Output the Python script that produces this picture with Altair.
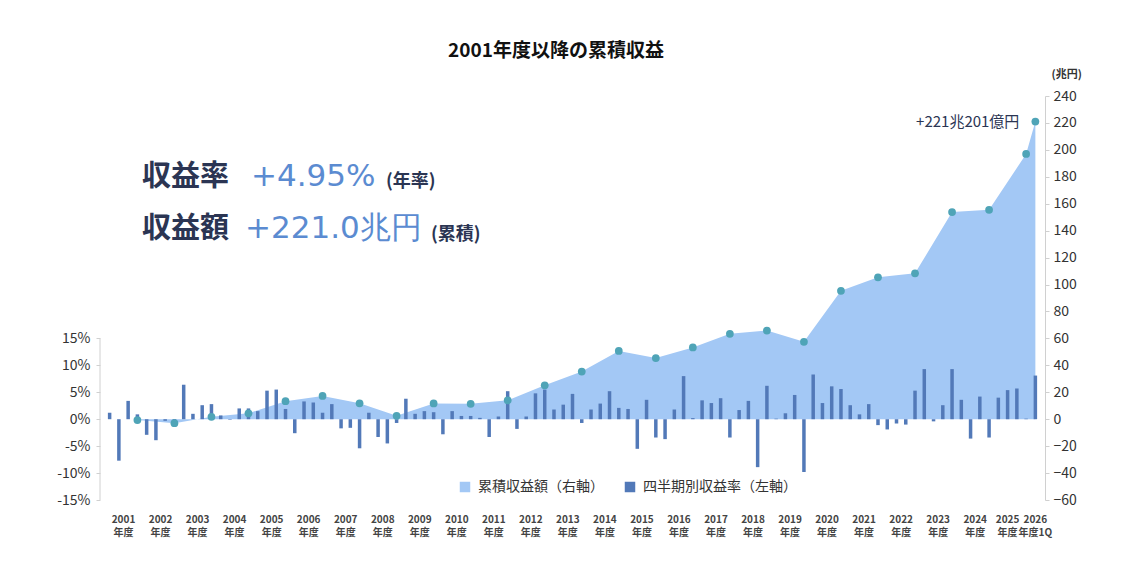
import altair as alt
import pandas as pd

# ---------------- data ----------------
quarterly_returns = [
    1.2, -7.7, 3.4, 0.9,      # 2001
    -2.9, -3.9, -0.3, -0.4,   # 2002
    6.4, 1.0, 2.6, 2.8,       # 2003
    0.7, -0.1, 2.0, 2.0,      # 2004
    1.5, 5.3, 5.5, 1.9,       # 2005
    -2.6, 3.3, 3.1, 1.2,      # 2006
    2.8, -1.7, -1.6, -5.4,    # 2007
    1.2, -3.3, -4.5, -0.7,    # 2008
    3.8, 1.0, 1.5, 1.3,       # 2009
    -2.8, 1.5, 0.6, 0.6,      # 2010
    0.25, -3.3, 0.5, 5.2,     # 2011
    -1.8, 0.5, 4.8, 5.5,      # 2012
    1.8, 2.7, 4.7, -0.7,      # 2013
    1.8, 2.9, 5.2, 2.1,       # 2014
    1.9, -5.5, 3.6, -3.4,     # 2015
    -3.7, 1.8, 8.0, 0.2,      # 2016
    3.5, 3.0, 3.9, -3.4,      # 2017
    1.7, 3.4, -8.9, 6.2,      # 2018
    0.1, 1.1, 4.5, -9.8,      # 2019
    8.3, 3.0, 6.1, 5.6,       # 2020
    2.6, 0.9, 2.8, -1.1,      # 2021
    -1.9, -0.8, -1.0, 5.3,    # 2022
    9.3, -0.4, 2.6, 9.3,      # 2023
    3.6, -3.6, 4.2, -3.4,     # 2024
    4.0, 5.4, 5.7, 0.1,       # 2025
    8.1,                      # 2026 1Q
]

fiscal_years = [str(y) for y in range(2001, 2027)]
year_suffix = ["年度"] * 25 + ["年度1Q"]

cumulative = [-0.6, -3.0, 1.8, 4.4, 13.4, 17.3, 11.8, 2.5, 11.7, 11.4,
              14.0, 25.2, 35.4, 50.7, 45.4, 53.3, 63.4, 65.8, 57.5, 95.3,
              105.4, 108.3, 153.8, 155.5, 197.0, 221.0]
cum_quarter = [4 * k + 3 for k in range(25)] + [100]

x_tick_pos = [4 * k + 1.5 for k in range(24)] + [97.0, 100.0]

legend_labels = ["累積収益額（右軸）", "四半期別収益率（左軸）"]
last_label = "+221兆201億円"

left_ticks = [-15, -10, -5, 0, 5, 10, 15]
right_ticks = list(range(-60, 241, 20))

df_q = pd.DataFrame({"q": list(range(len(quarterly_returns))), "ret": quarterly_returns,
                     "series": legend_labels[1]})
df_c = pd.DataFrame({"q": cum_quarter, "cum": cumulative, "series": legend_labels[0]})
df_last = pd.DataFrame({"q": [cum_quarter[-1]], "cum": [cumulative[-1]], "t": [last_label]})
df_xl = pd.DataFrame({"q": x_tick_pos,
                      "lab": [f"{y}\n{s}" for y, s in zip(fiscal_years, year_suffix)]})
dummy = pd.DataFrame({"a": [0]})

# ---------------- style ----------------
FONT = "Noto Sans CJK JP"
NUM_FONT = "DejaVu Sans"
AREA_C = "#a3c8f5"
BAR_C = "#5279b8"
DOT_C = "#4fa4b7"
NAVY = "#2b3553"
BLUE_T = "#5b8bd1"
AXIS_C = "#d0d0d0"

W, H = 945, 404

x_scale = alt.Scale(domain=[-0.5, 100.5], nice=False, zero=False)
x_plain = alt.X("q:Q", scale=x_scale, axis=None)

left_scale = alt.Scale(domain=[-15, 60], nice=False, zero=False)
right_scale = alt.Scale(domain=[-60, 240], nice=False, zero=True)

color_scale = alt.Scale(domain=legend_labels, range=[AREA_C, BAR_C])
legend = alt.Legend(
    orient="none", legendX=358, legendY=384, direction="horizontal", title=None,
    symbolType="square", symbolSize=110, symbolStrokeWidth=0, symbolOpacity=1,
    labelFontSize=14, labelColor="#333", labelFont=FONT, labelOffset=6,
    columnPadding=19, padding=0,
)
color_enc = alt.Color("series:N", scale=color_scale, legend=legend, sort=legend_labels)

area = alt.Chart(df_c).mark_area(opacity=1, interpolate="linear").encode(
    x=x_plain,
    y=alt.Y("cum:Q", scale=right_scale, axis=alt.Axis(
        orient="right", values=right_ticks, grid=False, domainColor=AXIS_C, tickColor=AXIS_C,
        tickSize=4, labelFontSize=14, labelColor="#333", labelFont=FONT, labelPadding=4,
        title="(兆円)", titleAngle=0, titleAlign="left", titleBaseline="middle",
        titleX=6, titleY=-22, titleFontSize=11, titleFont=FONT, titleFontWeight="bold",
        titleColor="#333",
    )),
    color=color_enc,
)

bars = alt.Chart(df_q).mark_bar(size=3.5).encode(
    x=x_plain,
    y=alt.Y("ret:Q", scale=left_scale, axis=alt.Axis(
        orient="left", values=left_ticks, grid=False, domain=False, tickColor=AXIS_C,
        tickSize=4, labelExpr="datum.value + '%'", labelFontSize=14, labelColor="#333",
        labelFont=FONT, labelPadding=6, title=None,
    )),
    color=color_enc,
)

left_line = alt.Chart(dummy).mark_rule(color=AXIS_C, strokeWidth=1).encode(
    x=alt.value(0),
    y=alt.YDatum(left_ticks[0], scale=left_scale, axis=None),
    y2=alt.Y2Datum(left_ticks[-1]),
)

dots = alt.Chart(df_c).mark_circle(size=60, color=DOT_C, opacity=1).encode(
    x=x_plain,
    y=alt.Y("cum:Q", scale=right_scale, axis=None),
)

last_text = alt.Chart(df_last).mark_text(
    align="right", baseline="middle", dx=-16, fontSize=15, color=NAVY, font=FONT
).encode(
    x=x_plain,
    y=alt.Y("cum:Q", scale=right_scale, axis=None),
    text="t:N",
)

x_labels = alt.Chart(df_xl).mark_text(
    align="center", baseline="top", fontSize=10, lineHeight=13, lineBreak="\n",
    color="#444", fontWeight="bold", font=FONT,
).encode(
    x=x_plain,
    y=alt.value(H + 15),
    text="lab:N",
)


def label(txt, x, y, size, color, weight="normal", align="left", font=FONT):
    return alt.Chart(dummy).mark_text(
        text=txt, align=align, baseline="middle", fontSize=size, color=color,
        fontWeight=weight, font=font,
    ).encode(x=alt.value(x), y=alt.value(y))


texts = [
    label("2001年度以降の累積収益", 456, -45, 19, "#111", "bold", "center"),
    label("収益率", 42, 81, 29, NAVY, "bold"),
    label("+4.95%", 151, 81, 31, BLUE_T, font=NUM_FONT),
    label("(年率)", 286, 86, 18, NAVY, "bold"),
    label("収益額", 42, 133, 29, NAVY, "bold"),
    label("+221.0兆円", 145, 133, 31, BLUE_T, font=NUM_FONT),
    label("(累積)", 331, 139, 18, NAVY, "bold"),
]

chart = alt.layer(area, bars, left_line, dots, last_text, x_labels, *texts).resolve_scale(
    y="independent"
).properties(
    width=W, height=H,
    autosize=alt.AutoSizeParams(type="none"),
    padding={"left": 92, "top": 88, "right": 70, "bottom": 64},
    background="white",
).configure_view(stroke=None)

chart.save("out.html", embed_options={"renderer": "svg", "actions": False})
